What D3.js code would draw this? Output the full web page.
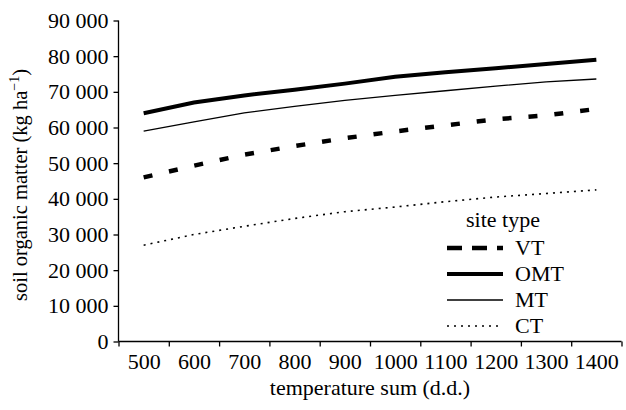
<!DOCTYPE html>
<html>
<head>
<meta charset="utf-8">
<script src="https://cdn.jsdelivr.net/npm/d3@7"></script>
<style>
  body { margin: 0; background: #fff; }
  svg text { font-family: "Liberation Serif", "Times New Roman", serif; fill: #000; }
  .axis path, .axis line { stroke: #000; stroke-width: 1.3; }
  .axis text { font-size: 22px; }
</style>
</head>
<body>
<svg id="chart" width="626" height="410"></svg>
<script>
// temperature sum categories (d.d.)
var tempSums = [500, 600, 700, 800, 900, 1000, 1100, 1200, 1300, 1400];

// soil organic matter (kg/ha) per site type
var vtValues  = [46000, 49300, 52400, 54800, 57000, 58900, 60600, 62300, 63400, 65200];
var omtValues = [64000, 67000, 69000, 70600, 72300, 74200, 75500, 76600, 77800, 79000];
var mtValues  = [59000, 61600, 64100, 65900, 67600, 69000, 70300, 71600, 72800, 73600];
var ctValues  = [27000, 30000, 32300, 34500, 36400, 37700, 39200, 40500, 41500, 42500];

var siteTypes = ["VT", "OMT", "MT", "CT"];
var yTicks = [0, 10000, 20000, 30000, 40000, 50000, 60000, 70000, 80000, 90000];

var styles = {
    VT:  { width: 4.5, dash: "9,17", legendDash: "15,10" },
    OMT: { width: 4, dash: null, legendDash: null },
    MT:  { width: 1.3, dash: null, legendDash: null },
    CT:  { width: 1.6, dash: "2,5", legendDash: "2,5" }
};

var series = [
    { name: "VT", values: vtValues },
    { name: "OMT", values: omtValues },
    { name: "MT", values: mtValues },
    { name: "CT", values: ctValues }
];

var svg = d3.select("#chart");

var x = d3.scaleLinear().domain([450, 1450]).range([118.5, 621.5]);
var y = d3.scaleLinear().domain([0, 90000]).range([341.5, 20.5]);

var fmt = function(d) { return d3.format(",")(d).replace(/,/g, " "); };

// y axis
var yAxis = svg.append("g")
    .attr("class", "axis")
    .attr("transform", "translate(118.5,0)")
    .call(d3.axisLeft(y).tickValues(yTicks).tickSize(5).tickPadding(5).tickFormat(fmt));
yAxis.select(".domain").attr("d", "M0," + y(90000) + "V" + y(0));

// x axis: ticks between categories, labels centred
var xTickPos = tempSums.map(function(d) { return d - 50; }).concat([1450]);
var xAxis = svg.append("g")
    .attr("class", "axis")
    .attr("transform", "translate(0,341.5)")
    .call(d3.axisBottom(x).tickValues(xTickPos).tickSize(5).tickFormat(""));
xAxis.select(".domain").attr("d", "M" + x(450) + ",0H" + x(1450));

svg.append("g")
    .attr("class", "axis")
    .attr("transform", "translate(0,341.5)")
    .call(d3.axisBottom(x).tickValues(tempSums).tickSize(0).tickPadding(12).tickFormat(d3.format("d")))
    .call(function(g) { g.select(".domain").remove(); });

// axis titles
svg.append("text")
    .attr("x", 370)
    .attr("y", 395)
    .attr("text-anchor", "middle")
    .style("font-size", "22px")
    .text("temperature sum (d.d.)");

var ylab = svg.append("text")
    .attr("transform", "translate(27,185) rotate(-90)")
    .attr("text-anchor", "middle")
    .style("font-size", "20.5px");
ylab.append("tspan").text("soil organic matter (kg ha");
ylab.append("tspan").attr("dy", -8).style("font-size", "14px").text("\u22121");
ylab.append("tspan").attr("dy", 8).text(")");

// lines
var line = d3.line()
    .x(function(d, i) { return x(tempSums[i]); })
    .y(function(d) { return y(d); });

svg.append("g").selectAll("path")
    .data(series)
    .enter().append("path")
    .attr("d", function(d) { return line(d.values); })
    .attr("fill", "none")
    .attr("stroke", "#000")
    .attr("stroke-width", function(d) { return styles[d.name].width; })
    .attr("stroke-dasharray", function(d) { return styles[d.name].dash; });

// legend
var legend = svg.append("g");
legend.append("text")
    .attr("x", 503)
    .attr("y", 227)
    .attr("text-anchor", "middle")
    .style("font-size", "22px")
    .text("site type");

var item = legend.selectAll(".item")
    .data(siteTypes)
    .enter().append("g")
    .attr("class", "item")
    .attr("transform", function(d, i) { return "translate(0," + (248 + i * 26) + ")"; });

item.append("line")
    .attr("x1", 447).attr("x2", 503)
    .attr("stroke", "#000")
    .attr("stroke-width", function(d) { return styles[d].width; })
    .attr("stroke-dasharray", function(d) { return styles[d].legendDash; });

item.append("text")
    .attr("x", 515)
    .attr("y", 7)
    .style("font-size", "22px")
    .text(function(d) { return d; });
</script>
</body>
</html>
